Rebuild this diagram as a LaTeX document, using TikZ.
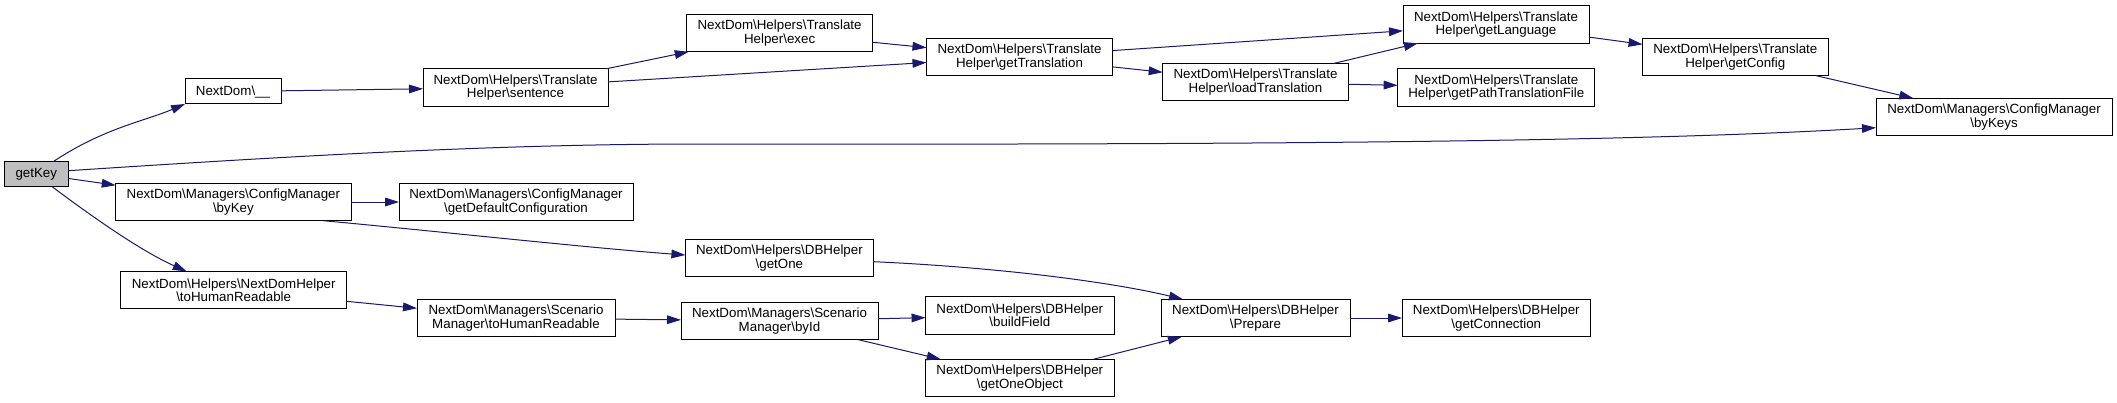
\documentclass[tikz,border=0pt]{standalone}
\usepackage{fontspec}
\setmainfont{Liberation Sans}
\usetikzlibrary{arrows.meta,calc}
\newcommand{\bsl}{\textbackslash}
\definecolor{edgeblue}{HTML}{191970}
\definecolor{rootgrey}{HTML}{BFBFBF}
\begin{document}
\begin{tikzpicture}[x=0.75pt,y=-0.75pt,
  box/.style={draw=black,line width=0.75pt,fill=white,inner sep=0pt,outer sep=0pt,
    align=center,font=\fontsize{10}{10}\selectfont,minimum height=37.5*0.75pt},
  onebox/.style={box,minimum height=25*0.75pt},
  bw/.style={minimum width=#1*0.75pt},
  edge/.style={draw=edgeblue,line width=0.75pt,-{Triangle[length=10.5pt,width=6.5pt]}}]
\useasboundingbox (0,0) rectangle (2117,403);
\fill[white] (0,0) rectangle (2117,403);
% nodes
\node[onebox,bw=64,fill=rootgrey] (gk) at (36.3,173.9) {getKey};
\node[onebox,bw=96] (und) at (233,91.5) {NextDom\bsl\_\_};
\node[box,bw=185] (sen) at (515.5,87.5) {NextDom\bsl Helpers\bsl Translate\\Helper\bsl sentence};
\node[box,bw=185.6] (exe) at (779.6,33) {NextDom\bsl Helpers\bsl Translate\\Helper\bsl exec};
\node[box,bw=186] (gtr) at (1019.5,56.9) {NextDom\bsl Helpers\bsl Translate\\Helper\bsl getTranslation};
\node[box,bw=185.6] (ltr) at (1255.5,82.2) {NextDom\bsl Helpers\bsl Translate\\Helper\bsl loadTranslation};
\node[box,bw=186] (gla) at (1496,24.5) {NextDom\bsl Helpers\bsl Translate\\Helper\bsl getLanguage};
\node[box,bw=197.3] (gpt) at (1496.3,87.5) {NextDom\bsl Helpers\bsl Translate\\Helper\bsl getPathTranslationFile};
\node[box,bw=185.5] (gcf) at (1735.3,56.9) {NextDom\bsl Helpers\bsl Translate\\Helper\bsl getConfig};
\node[box,bw=236] (bks) at (1994,117) {NextDom\bsl Managers\bsl ConfigManager\\\bsl byKeys};
\node[box,bw=235.3] (bk) at (233.4,202) {NextDom\bsl Managers\bsl ConfigManager\\\bsl byKey};
\node[box,bw=234] (gdc) at (516,202) {NextDom\bsl Managers\bsl ConfigManager\\\bsl getDefaultConfiguration};
\node[box,bw=188] (go) at (779.4,258) {NextDom\bsl Helpers\bsl DBHelper\\\bsl getOne};
\node[box,bw=226] (ndh) at (233.7,290.2) {NextDom\bsl Helpers\bsl NextDomHelper\\\bsl toHumanReadable};
\node[box,bw=198] (smh) at (516,318) {NextDom\bsl Managers\bsl Scenario\\Manager\bsl toHumanReadable};
\node[box,bw=197] (bid) at (779.5,321) {NextDom\bsl Managers\bsl Scenario\\Manager\bsl byId};
\node[box,bw=188.5] (bf) at (1019.8,315.5) {NextDom\bsl Helpers\bsl DBHelper\\\bsl buildField};
\node[box,bw=188.5] (goo) at (1019.8,378) {NextDom\bsl Helpers\bsl DBHelper\\\bsl getOneObject};
\node[box,bw=189] (pre) at (1255.5,318) {NextDom\bsl Helpers\bsl DBHelper\\\bsl Prepare};
\node[box,bw=188.6] (gcn) at (1496.3,318) {NextDom\bsl Helpers\bsl DBHelper\\\bsl getConnection};
% curved edges
\draw[edge] ($(gk.north west)+(49.3,0)$) .. controls (103.6,128.2) and (144.4,121.2) .. (und.south west);
\draw[edge] ($(gk.east)+(0,-3.2)$) .. controls (300,155.5) and (500,144) .. (700,144)
   .. controls (1300,145) and (1650,141) .. ($(bks.west)+(0,10.7)$);
\draw[edge] ($(gk.south west)+(47.4,0)$) .. controls (96.7,220) and (141.7,251.2) .. ($(ndh.north west)+(66,0)$);
\draw[edge] ($(bk.south west)+(208,0)$) .. controls (420,229.5) and (590,248) .. ($(go.west)+(0,-3)$);
\draw[edge] ($(go.east)+(0,3.7)$) .. controls (1003.4,267.6) and (1113,282.5) .. ($(pre.north west)+(22,0)$);
% straight edges
\draw[edge] (gk) -- (bk);
\draw[edge] (und) -- (sen);
\draw[edge] (sen) -- (exe);
\draw[edge] (sen) -- (gtr);
\draw[edge] (exe) -- (gtr);
\draw[edge] (gtr) -- (gla);
\draw[edge] (gtr) -- (ltr);
\draw[edge] (ltr) -- (gla);
\draw[edge] (ltr) -- (gpt);
\draw[edge] (gla) -- (gcf);
\draw[edge] (gcf) -- (bks);
\draw[edge] (bk) -- (gdc);
\draw[edge] (ndh) -- (smh);
\draw[edge] (smh) -- (bid);
\draw[edge] (bid) -- (bf);
\draw[edge] (bid) -- (goo);
\draw[edge] (goo) -- (pre);
\draw[edge] (pre) -- (gcn);
\end{tikzpicture}
\end{document}
